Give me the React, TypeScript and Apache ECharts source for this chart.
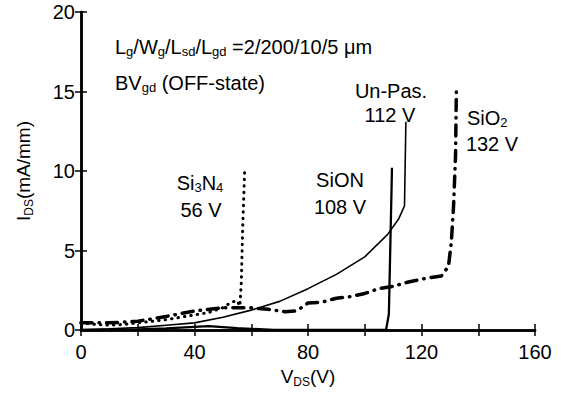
import React, { useEffect, useRef } from "react";
import * as echarts from "echarts";

// Data (V_DS in V, I_DS in mA/mm)
const unPasV = [0, 10, 20, 30, 40, 50, 60, 70, 80, 90, 100, 108, 112, 114, 114.5];
const unPasI = [0.02, 0.08, 0.15, 0.3, 0.45, 0.8, 1.25, 1.8, 2.6, 3.5, 4.6, 6.0, 7.0, 7.8, 13.1];

const sionV = [0, 20, 30, 40, 45, 55, 68, 107.5, 108.5, 109.6];
const sionI = [0, 0.03, 0.1, 0.2, 0.25, 0.12, 0, 0, 1.0, 10.2];

const si3n4V = [0, 5, 10, 15, 20, 25, 30, 35, 40, 45, 50, 53, 55, 56, 56.5, 57, 57.7];
const si3n4I = [0.45, 0.35, 0.3, 0.35, 0.45, 0.55, 0.65, 0.8, 0.95, 1.1, 1.4, 1.75, 1.85, 1.5, 3, 6.5, 10.1];

const sio2V = [0, 10, 20, 30, 40, 50, 60, 66, 72, 76, 80, 85, 90, 95, 100, 105, 110, 115, 120, 127, 129.5, 130.5, 131.3, 132, 132.3];
const sio2I = [0.45, 0.45, 0.55, 0.85, 1.2, 1.4, 1.4, 1.3, 1.15, 1.2, 1.7, 1.75, 2.0, 2.1, 2.3, 2.6, 2.75, 3.0, 3.2, 3.4, 4.0, 5.5, 7.8, 11, 15.3];

const xTicks = [0, 40, 80, 120, 160];
const yTicks = [0, 5, 10, 15, 20];

const zip = (xs: number[], ys: number[]) => xs.map((x, i) => [x, ys[i]]);

const FONT = "Liberation Sans, Arial, sans-serif";

export default function App() {
  const ref = useRef<HTMLDivElement>(null);
  useEffect(() => {
    if (!ref.current) return;
    const chart = echarts.init(ref.current, undefined, { renderer: "svg" });
    const axisLine = { show: true, lineStyle: { color: "#000", width: 2.5 } };
    const tick = { show: true, inside: true, length: 6, lineStyle: { color: "#000", width: 1.5 } };
    const rich = {
      n: { fontSize: 19, fontFamily: FONT, color: "#000" },
      s: { fontSize: 12, fontFamily: FONT, color: "#000", padding: [12, 0, 0, 0] },
    };
    const labelRich = {
      n: { fontSize: 20, fontFamily: FONT, color: "#000" },
      s: { fontSize: 13, fontFamily: FONT, color: "#000", padding: [9, 0, 0, 0] },
    };
    const txt = (x: number, y: number, text: string, align = "center") => ({
      type: "text",
      x,
      y,
      style: { text, rich: labelRich, align, verticalAlign: "middle", fill: "#000" },
    });
    chart.setOption({
      animation: false,
      backgroundColor: "#fff",
      grid: { left: 81, right: 39, top: 12, bottom: 64 },
      xAxis: [
        {
          type: "value",
          min: 0,
          max: 160,
          interval: 20,
          position: "bottom",
          axisLine,
          axisTick: tick,
          splitLine: { show: false },
          axisLabel: {
            color: "#000",
            fontSize: 20,
            fontFamily: FONT,
            margin: 12,
            formatter: (v: number) => (xTicks.includes(v) ? String(v) : ""),
          },
          name: "{n|V}{s|DS}{n|(V)}",
          nameLocation: "middle",
          nameGap: 31,
          nameTextStyle: { rich },
        },
        {
          type: "value",
          min: 0,
          max: 160,
          interval: 20,
          position: "top",
          axisLine,
          axisTick: tick,
          splitLine: { show: false },
          axisLabel: { show: false },
        },
      ],
      yAxis: [
        {
          type: "value",
          min: 0,
          max: 20,
          interval: 5,
          position: "left",
          axisLine,
          axisTick: tick,
          splitLine: { show: false },
          axisLabel: {
            color: "#000",
            fontSize: 20,
            fontFamily: FONT,
            margin: 6,
            formatter: (v: number) => (yTicks.includes(v) ? String(v) : ""),
          },
          name: "{n|I}{s|DS}{n|(mA/mm)}",
          nameLocation: "middle",
          nameRotate: 90,
          nameGap: 46,
          nameTextStyle: { rich },
        },
        {
          type: "value",
          min: 0,
          max: 20,
          interval: 5,
          position: "right",
          axisLine,
          axisTick: tick,
          splitLine: { show: false },
          axisLabel: { show: false },
        },
      ],
      series: [
        {
          type: "line",
          name: "Un-Pas.",
          data: zip(unPasV, unPasI),
          showSymbol: false,
          lineStyle: { color: "#000", width: 1.6 },
        },
        {
          type: "line",
          name: "SiON",
          data: zip(sionV, sionI),
          showSymbol: false,
          lineStyle: { color: "#000", width: 2.3 },
        },
        {
          type: "line",
          name: "Si3N4",
          data: zip(si3n4V, si3n4I),
          showSymbol: false,
          lineStyle: { color: "#000", width: 3, type: [0.5, 6], cap: "round" },
        },
        {
          type: "line",
          name: "SiO2",
          data: zip(sio2V, sio2I),
          showSymbol: false,
          lineStyle: { color: "#000", width: 3.5, type: [11, 7, 0.5, 7], cap: "round" },
        },
      ],
      graphic: [
        txt(115, 47, "{n|L}{s|g}{n|/W}{s|g}{n|/L}{s|sd}{n|/L}{s|gd}{n| =2/200/10/5 μm}", "left"),
        txt(115, 83, "{n|BV}{s|gd}{n| (OFF-state)}", "left"),
        txt(200, 183, "{n|Si}{s|3}{n|N}{s|4}"),
        txt(201, 210, "{n|56 V}"),
        txt(340, 180, "{n|SiON}"),
        txt(340, 207, "{n|108 V}"),
        txt(391, 91, "{n|Un-Pas.}"),
        txt(390, 115, "{n|112 V}"),
        txt(467, 118, "{n|SiO}{s|2}", "left"),
        txt(492, 144, "{n|132 V}"),
      ],
    });
    return () => chart.dispose();
  }, []);
  return (
    <div
      ref={ref}
      style={{ position: "fixed", left: 0, top: 0, width: 574, height: 394, background: "#fff" }}
    />
  );
}
